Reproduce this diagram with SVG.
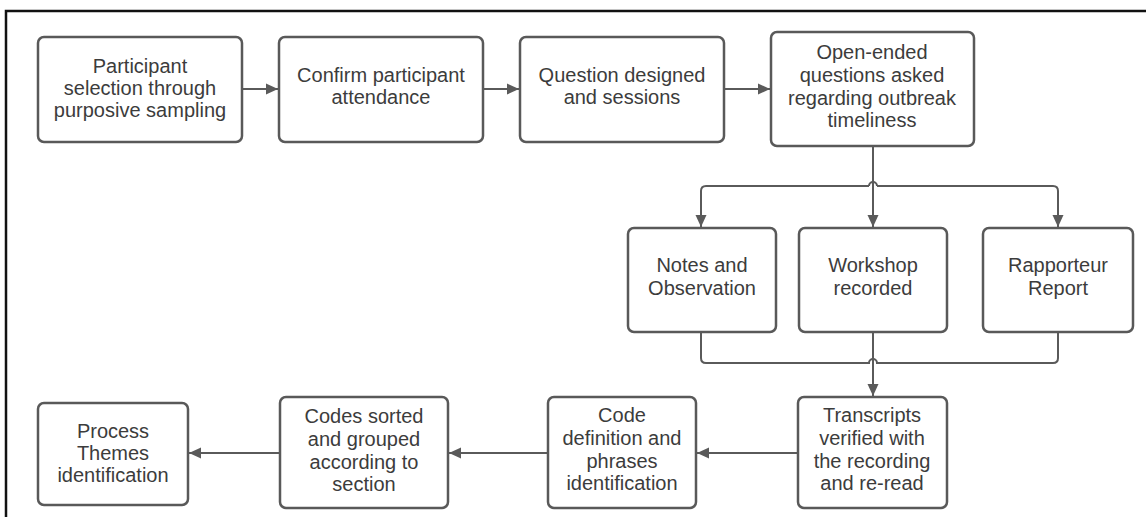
<svg xmlns="http://www.w3.org/2000/svg" width="1146" height="517" viewBox="0 0 1146 517">
<style>
.box{fill:#fff;stroke:#595959;stroke-width:2.5}
.t{font-family:"Liberation Sans",Arial,sans-serif;font-size:20px;fill:#3c3c3c;text-anchor:middle}
.c{fill:none;stroke:#5a5a5a;stroke-width:2}
</style>
<defs>
<marker id="ah" markerUnits="userSpaceOnUse" markerWidth="12" markerHeight="12" viewBox="0 0 12 12" refX="12" refY="6" orient="auto">
<path d="M0,0.5 L12,6 L0,11.5 z" fill="#5a5a5a"/>
</marker>
</defs>
<rect width="1146" height="517" fill="#fff"/>
<path d="M6,517 V11 H1146" fill="none" stroke="#111" stroke-width="2.5"/>
<g id="connectors">
<path class="c" d="M242,89 H278" marker-end="url(#ah)"/>
<path class="c" d="M483,89 H519" marker-end="url(#ah)"/>
<path class="c" d="M724,89 H770" marker-end="url(#ah)"/>
<path class="c" d="M873,146 V227" marker-end="url(#ah)"/>
<path class="c" d="M869,186 H706 Q701,186 701,191 V227" marker-end="url(#ah)"/>
<path class="c" d="M877,186 H1053 Q1058,186 1058,191 V227" marker-end="url(#ah)"/>
<path class="c" d="M869,186 A4,4 0 0 1 877,186"/>
<path class="c" d="M701,332 V358 Q701,363 706,363 H869 A4,4 0 0 1 877,363 H1053 Q1058,363 1058,358 V332"/>
<path class="c" d="M873,332 V396" marker-end="url(#ah)"/>
<path class="c" d="M798,453 H697" marker-end="url(#ah)"/>
<path class="c" d="M548,453 H449" marker-end="url(#ah)"/>
<path class="c" d="M280,453 H189" marker-end="url(#ah)"/>
</g>
<g id="n1"><rect class="box" x="38" y="37" width="204" height="105" rx="6"/>
<text class="t" x="140" y="73">Participant</text><text class="t" x="140" y="95">selection through</text><text class="t" x="140" y="117">purposive sampling</text></g>
<g id="n2"><rect class="box" x="279" y="37" width="204" height="105" rx="6"/>
<text class="t" x="381" y="82">Confirm participant</text><text class="t" x="381" y="104">attendance</text></g>
<g id="n3"><rect class="box" x="520" y="37" width="204" height="105" rx="6"/>
<text class="t" x="622" y="82">Question designed</text><text class="t" x="622" y="104">and sessions</text></g>
<g id="n4"><rect class="box" x="771" y="32" width="203" height="114" rx="6"/>
<text class="t" x="872" y="59">Open-ended</text><text class="t" x="872" y="82">questions asked</text><text class="t" x="872" y="105">regarding outbreak</text><text class="t" x="872" y="127">timeliness</text></g>
<g id="n5"><rect class="box" x="628" y="228" width="148" height="104" rx="6"/>
<text class="t" x="702" y="272">Notes and</text><text class="t" x="702" y="295">Observation</text></g>
<g id="n6"><rect class="box" x="799" y="228" width="148" height="104" rx="6"/>
<text class="t" x="873" y="272">Workshop</text><text class="t" x="873" y="295">recorded</text></g>
<g id="n7"><rect class="box" x="983" y="228" width="150" height="104" rx="6"/>
<text class="t" x="1058" y="272">Rapporteur</text><text class="t" x="1058" y="295">Report</text></g>
<g id="n8"><rect class="box" x="798" y="397" width="149" height="111" rx="6"/>
<text class="t" x="872" y="422">Transcripts</text><text class="t" x="872" y="445">verified with</text><text class="t" x="872" y="468">the recording</text><text class="t" x="872" y="490">and re-read</text></g>
<g id="n9"><rect class="box" x="548" y="397" width="148" height="111" rx="6"/>
<text class="t" x="622" y="422">Code</text><text class="t" x="622" y="445">definition and</text><text class="t" x="622" y="468">phrases</text><text class="t" x="622" y="490">identification</text></g>
<g id="n10"><rect class="box" x="280" y="397" width="168" height="111" rx="6"/>
<text class="t" x="364" y="423">Codes sorted</text><text class="t" x="364" y="446">and grouped</text><text class="t" x="364" y="469">according to</text><text class="t" x="364" y="491">section</text></g>
<g id="n11"><rect class="box" x="38" y="403" width="150" height="102" rx="6"/>
<text class="t" x="113" y="438">Process</text><text class="t" x="113" y="460">Themes</text><text class="t" x="113" y="482">identification</text></g>
</svg>
